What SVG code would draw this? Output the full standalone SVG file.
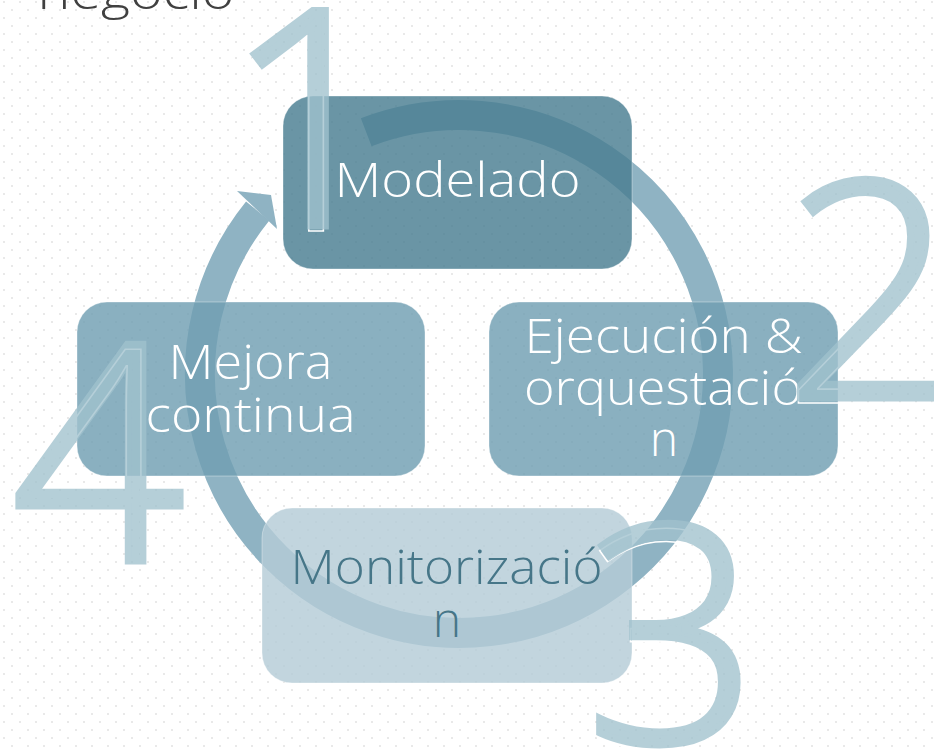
<svg xmlns="http://www.w3.org/2000/svg" width="934" height="751" viewBox="0 0 934 751">
  <defs>
    <pattern id="dots" width="16" height="16" patternUnits="userSpaceOnUse">
      <rect x="3" y="1" width="2" height="2" fill="#e9e9e9"/>
      <rect x="11" y="9" width="2" height="2" fill="#e9e9e9"/>
    </pattern>
    <style>
      .box { fill-opacity: 0.82; stroke: #ffffff; stroke-opacity: 0.35; stroke-width: 1; }
      .lbl { font-family: "Open Sans", "Liberation Sans", sans-serif; font-weight: 300; font-size: 48px; text-anchor: middle; }
      .lbl-w { fill: #ffffff; }
      .lbl-d { fill: #467688; }
      .num { font-family: "Open Sans", "Liberation Sans", sans-serif; font-weight: 300; font-size: 302px; text-anchor: middle; }
      .num-fill { fill: #a1c2ce; stroke: #a1c2ce; stroke-width: 7; stroke-linejoin: miter; }
      .num-edge { fill: none; stroke: #ffffff; stroke-width: 1.6; }
      .band { fill: none; stroke: #8fb3c3; stroke-width: 30; }
    </style>
  </defs>

  <rect width="934" height="751" fill="#ffffff"/>
  <rect width="934" height="751" fill="url(#dots)"/>

  <text id="title" x="136" y="9" class="lbl" style="fill:#404040" textLength="197" lengthAdjust="spacingAndGlyphs">negocio</text>

  <g id="connectors">
    <path class="band" d="M 366.2 132.2 A 259 259 0 1 1 257.7 211"/>
    <polygon points="237,191 271,195 277,229" fill="#8fb3c3"/>
  </g>

  <g id="node-modelado">
    <rect class="box" x="283" y="96" width="349" height="173" rx="30" fill="#497e91"/>
    <text class="lbl lbl-w" x="457.5" y="197" textLength="246" lengthAdjust="spacingAndGlyphs">Modelado</text>
  </g>

  <g id="node-ejecucion">
    <rect class="box" x="489" y="302" width="349" height="174" rx="30" fill="#709fb2"/>
    <text class="lbl lbl-w" x="663.5" y="353" textLength="278" lengthAdjust="spacingAndGlyphs">Ejecución &amp;</text>
    <text class="lbl lbl-w" x="663" y="405" textLength="278" lengthAdjust="spacingAndGlyphs">orquestació</text>
    <text class="lbl lbl-w" x="664" y="456">n</text>
  </g>

  <g id="node-monitorizacion">
    <rect class="box" x="262" y="508" width="370" height="175" rx="30" fill="#b5ccd7"/>
    <text class="lbl lbl-d" x="446.5" y="584" textLength="312" lengthAdjust="spacingAndGlyphs">Monitorizació</text>
    <text class="lbl lbl-d" x="447" y="637">n</text>
  </g>

  <g id="node-mejora">
    <rect class="box" x="77" y="302" width="348" height="174" rx="30" fill="#709fb2"/>
    <text class="lbl lbl-w" x="250.5" y="379" textLength="164" lengthAdjust="spacingAndGlyphs">Mejora</text>
    <text class="lbl lbl-w" x="250.5" y="432" textLength="210" lengthAdjust="spacingAndGlyphs">continua</text>
  </g>

  <g id="numbers">
    <text class="num num-edge" x="309" y="231">1</text>
    <text class="num num-edge" x="868" y="403">2</text>
    <text class="num num-edge" x="670" y="747">3</text>
    <text class="num num-edge" x="96" y="566">4</text>
    <g opacity="0.78">
      <text class="num num-fill" x="311" y="226">1</text>
      <text class="num num-fill" x="870" y="398">2</text>
      <text class="num num-fill" x="672" y="742">3</text>
      <text class="num num-fill" x="98" y="561">4</text>
    </g>
  </g>
</svg>
